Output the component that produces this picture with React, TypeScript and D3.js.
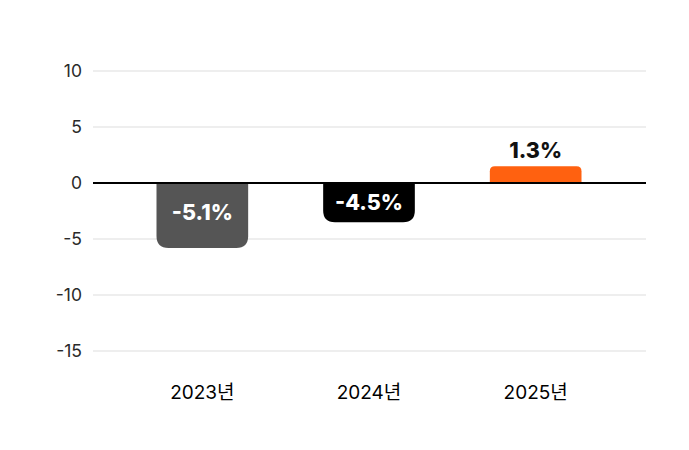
import React from "react";
import * as d3 from "d3";

const categories = ["2023년", "2024년", "2025년"];
const barValues = [-5.8, -3.5, 1.5];
const valueLabels = ["-5.1%", "-4.5%", "1.3%"];
const yTicks = [10, 5, 0, -5, -10, -15];
const barColors = ["#555555", "#000000", "#FF6110"];

const W = 689;
const H = 450;
const FONT = "Inter, 'Noto Sans CJK KR', sans-serif";

export default function App() {
  const y = d3.scaleLinear().domain([-15, 10]).range([351, 71]);
  const x = d3
    .scaleBand<string>()
    .domain(categories)
    .range([119, 619])
    .paddingInner(0.45)
    .paddingOuter(0.225);
  const gridX0 = 93;
  const gridX1 = 646;
  const y0 = y(0);

  const barPath = (i: number) => {
    const v = barValues[i];
    const x0 = x(categories[i])!;
    const w = x.bandwidth();
    const yv = y(v);
    const h = Math.abs(yv - y0);
    const r = Math.min(12, h * 0.3);
    if (v < 0) {
      return `M${x0},${y0} L${x0 + w},${y0} L${x0 + w},${yv - r} Q${x0 + w},${yv} ${x0 + w - r},${yv} L${x0 + r},${yv} Q${x0},${yv} ${x0},${yv - r} Z`;
    }
    return `M${x0},${y0} L${x0},${yv + r} Q${x0},${yv} ${x0 + r},${yv} L${x0 + w - r},${yv} Q${x0 + w},${yv} ${x0 + w},${yv + r} L${x0 + w},${y0} Z`;
  };

  return (
    <svg
      width={W}
      height={H}
      style={{ position: "absolute", left: 0, top: 0, background: "#fff" }}
      fontFamily={FONT}
    >
      {yTicks.map((t) => (
        <g key={t}>
          {t !== 0 && (
            <line x1={gridX0} x2={gridX1} y1={y(t)} y2={y(t)} stroke="#dddddd" strokeWidth={1} />
          )}
          <text x={82} y={y(t)} dy="0.36em" textAnchor="end" fontSize={17.5} fill="#2a2a2a">
            {t}
          </text>
        </g>
      ))}
      {categories.map((c, i) => (
        <path key={c} d={barPath(i)} fill={barColors[i]} />
      ))}
      <line x1={gridX0} x2={gridX1} y1={y0} y2={y0} stroke="#000" strokeWidth={2} />
      {categories.map((c, i) => {
        const cx = x(c)! + x.bandwidth() / 2;
        const v = barValues[i];
        const yv = y(v);
        const inside = v < 0;
        const ly = inside ? Math.min((y0 + yv) / 2, y0 + 29) : yv - 16;
        return (
          <text
            key={c}
            x={cx}
            y={ly}
            dy="0.36em"
            textAnchor="middle"
            fontSize={21.5}
            fontWeight={800}
            fill={inside ? "#fff" : "#111"}
          >
            {valueLabels[i]}
          </text>
        );
      })}
      {categories.map((c) => (
        <text
          key={c}
          x={x(c)! + x.bandwidth() / 2}
          y={399}
          textAnchor="middle"
          fontSize={19}
          fontWeight={400}
          fill="#000"
        >
          {c}
        </text>
      ))}
    </svg>
  );
}
